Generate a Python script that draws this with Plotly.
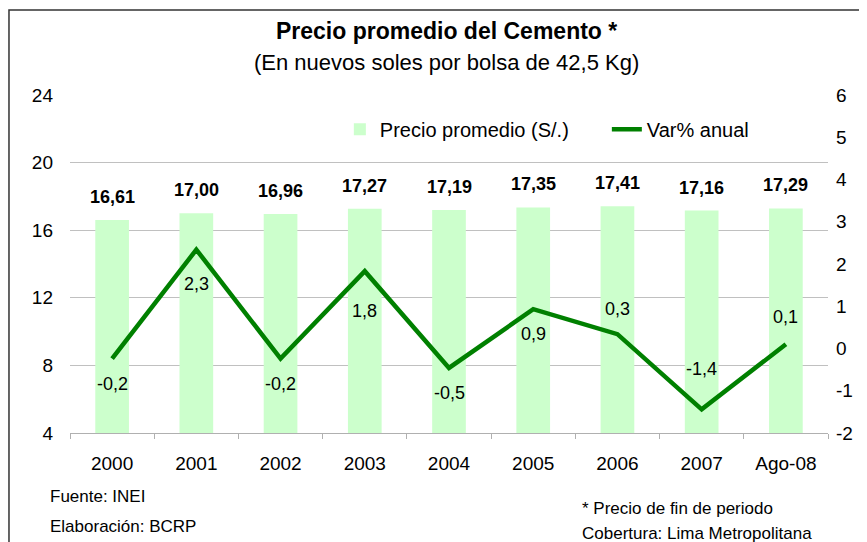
import plotly.graph_objects as go

categories = ["2000", "2001", "2002", "2003", "2004", "2005", "2006", "2007", "Ago-08"]
precio = [16.61, 17.00, 16.96, 17.27, 17.19, 17.35, 17.41, 17.16, 17.29]
var_anual = [-0.24, 2.34, -0.24, 1.83, -0.46, 0.93, 0.34, -1.44, 0.10]
left_ticks = [4, 8, 12, 16, 20, 24]
right_ticks = [-2, -1, 0, 1, 2, 3, 4, 5, 6]

# label offsets (style): pixels above (+) or below (-) each line point
line_label_shift = [-25, -34, -25, -40, -25, -25, 25, 40, 27]

FONT = "Liberation Sans, Arial, sans-serif"

fig = go.Figure()
fig.add_trace(go.Bar(
    x=categories, y=precio, name="Precio promedio (S/.)",
    marker=dict(color="#CCFFCC", line=dict(width=0)),
    yaxis="y",
))
fig.add_trace(go.Scatter(
    x=categories, y=var_anual, name="Var% anual", mode="lines",
    line=dict(color="#008000", width=4.5),
    yaxis="y2",
))

annotations = []
for i, v in enumerate(precio):
    annotations.append(dict(
        x=i, y=v, xref="x", yref="y", text="<b>" + f"{v:.2f}".replace(".", ",") + "</b>",
        showarrow=False, yshift=23, yanchor="middle",
        font=dict(family=FONT, size=18, color="black")))
for i, (v, s) in enumerate(zip(var_anual, line_label_shift)):
    annotations.append(dict(
        x=i, y=v, xref="x", yref="y2", text=f"{v:.1f}".replace(".", ","),
        showarrow=False, yshift=s, yanchor="middle",
        font=dict(family=FONT, size=18, color="black")))

annotations += [
    dict(x=0.497, y=1.189, xref="paper", yref="paper", text="<b>Precio promedio del Cemento *</b>",
         showarrow=False, yanchor="middle", font=dict(family=FONT, size=23, color="black")),
    dict(x=0.497, y=1.095, xref="paper", yref="paper", text="(En nuevos soles por bolsa de 42,5 Kg)",
         showarrow=False, yanchor="middle", font=dict(family=FONT, size=22, color="black")),
    dict(x=-0.029, y=-0.189, xref="paper", yref="paper", text="Fuente: INEI", xanchor="left",
         yanchor="middle", showarrow=False, font=dict(family=FONT, size=17, color="black")),
    dict(x=-0.029, y=-0.276, xref="paper", yref="paper", text="Elaboración: BCRP", xanchor="left",
         yanchor="middle", showarrow=False, font=dict(family=FONT, size=17, color="black")),
    dict(x=0.673, y=-0.222, xref="paper", yref="paper", text="* Precio de fin de periodo", xanchor="left",
         yanchor="middle", showarrow=False, font=dict(family=FONT, size=17, color="black")),
    dict(x=0.673, y=-0.298, xref="paper", yref="paper", text="Cobertura: Lima Metropolitana", xanchor="left",
         yanchor="middle", showarrow=False, font=dict(family=FONT, size=17, color="black")),
]

fig.update_layout(
    width=859, height=534,
    margin=dict(l=62, r=39, t=87, b=109, autoexpand=False),
    paper_bgcolor="white", plot_bgcolor="white",
    font=dict(family=FONT, size=19, color="black"),
    bargap=0.6,
    showlegend=True,
    legend=dict(orientation="h", x=0.356, y=0.899, xanchor="left", yanchor="middle",
                font=dict(family=FONT, size=20, color="black"), bgcolor="rgba(0,0,0,0)",
                entrywidth=222, entrywidthmode="pixels",
                traceorder="normal"),
    xaxis=dict(type="category", categoryorder="array", categoryarray=categories,
               range=[-0.5, len(categories) - 0.5],
               showline=True, linecolor="#B0B0B0", linewidth=1,
               ticks="outside", tickson="boundaries", ticklen=5, tickcolor="#B0B0B0",
               showgrid=False, tickangle=0, ticklabelstandoff=13,
               tickfont=dict(family=FONT, size=19, color="black")),
    yaxis=dict(range=[4, 24], tickvals=left_ticks, ticktext=[str(t) for t in left_ticks],
               showgrid=True, gridcolor="#C0C0C0", gridwidth=1,
               zeroline=False, showline=False, ticks="", ticklabelstandoff=16,
               tickfont=dict(family=FONT, size=19, color="black")),
    yaxis2=dict(range=[-2, 6], tickvals=right_ticks, ticktext=[str(t) for t in right_ticks],
                overlaying="y", side="right", showgrid=False,
                zeroline=False, showline=False, ticks="", ticklabelstandoff=7,
                tickfont=dict(family=FONT, size=19, color="black")),
    annotations=annotations,
    shapes=[dict(type="rect", xref="paper", yref="paper", x0=-0.0805, x1=1.0449, y0=-0.34, y1=1.2515,
                 line=dict(color="#333333", width=1.5), fillcolor="rgba(0,0,0,0)", layer="below")],
)

fig.write_html("out.html")
